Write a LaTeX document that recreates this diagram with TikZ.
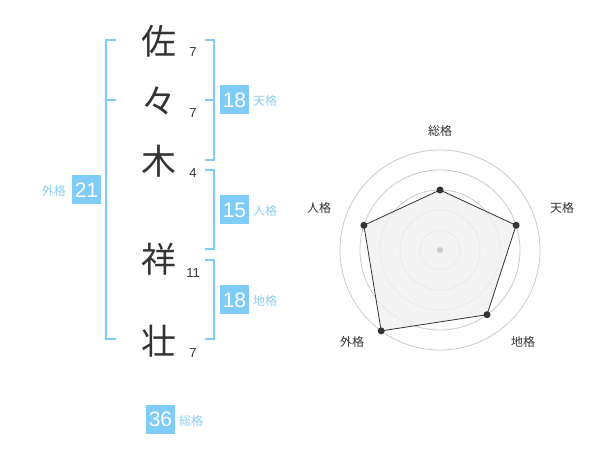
\documentclass[tikz,border=0pt]{standalone}
\usepackage{fontspec}
\usetikzlibrary{calc}
\setmainfont{Liberation Sans}
\newfontfamily\cjk{Noto Sans CJK JP}
\definecolor{boxblue}{HTML}{80CCF8}
\definecolor{lblblue}{HTML}{8CCFF5}
\definecolor{ink}{HTML}{333333}
\definecolor{ringgray}{HTML}{CCCCCC}
\definecolor{polyfill}{HTML}{F0F0F0}
\tikzset{
  bigchar/.style={font=\cjk\fontsize{35}{35}\selectfont, text=ink, inner sep=0pt},
  strokenum/.style={font=\fontsize{13}{13}\selectfont, text=ink, inner sep=0pt},
  valbox/.style={fill=boxblue, text=white, font=\fontsize{21}{21}\selectfont, minimum width=29pt, minimum height=29pt, inner sep=0pt},
  kaku/.style={font=\cjk\fontsize{12}{12}\selectfont, text=lblblue, inner sep=0pt},
  bracket/.style={draw=boxblue, line width=2pt},
  ring/.style={draw=ringgray, line width=0.8pt},
  radlbl/.style={font=\cjk\fontsize{12}{12}\selectfont, text=ink, inner sep=0pt},
  dot/.style={circle, fill=ink, minimum size=7pt, inner sep=0pt},
}
\begin{document}
\begin{tikzpicture}[x=1pt,y=-1pt]
\useasboundingbox[fill=white] (0,0) rectangle (600,470);
% characters
\node[bigchar] (c1) at (159,41) {佐};
\node[bigchar] (c2) at (159,101) {々};
\node[bigchar] (c3) at (159,161) {木};
\node[bigchar] (c4) at (159,259) {祥};
\node[bigchar] (c5) at (159,341) {壮};
% stroke numbers
\node[strokenum] (n1) at (193,52) {7};
\node[strokenum] (n2) at (193,113) {7};
\node[strokenum] (n3) at (193,173) {4};
\node[strokenum] (n4) at (193,273) {11};
\node[strokenum] (n5) at (193,353) {7};
% left bracket (外格)
\coordinate (lt) at (106,40);
\coordinate (lb) at (106,339);
\draw[bracket] (116,40) -- (lt) -- (lb) -- (116,339);
\draw[bracket] (106,100) -- (116,100);
% right brackets
\draw[bracket] (205,40) -- (214,40) -- (214,160) -- (205,160);
\draw[bracket] (205,100) -- (214,100);
\draw[bracket] (205,170) -- (214,170) -- (214,249) -- (205,249);
\draw[bracket] (205,260) -- (214,260) -- (214,339) -- (205,339);
% value boxes
\node[valbox] (v1) at (234.5,100) {18};
\node[kaku, anchor=west] (k1) at (253,101) {天格};
\node[valbox] (v2) at (234.5,210) {15};
\node[kaku, anchor=west] (k2) at (253,211) {人格};
\node[valbox] (v3) at (234.5,300) {18};
\node[kaku, anchor=west] (k3) at (253,301) {地格};
\node[valbox] (v4) at (86.5,190) {21};
\node[kaku, anchor=east] (k4) at (66,191) {外格};
\node[valbox] (v5) at (160.5,419.5) {36};
\node[kaku, anchor=west] (k5) at (179,421) {総格};
% radar
\coordinate (O) at (440,250);
\foreach \r in {20,40,60,80,100} \draw[ring] (O) circle (\r);
\coordinate (p1) at ($(O)+(0,-60)$);
\coordinate (p2) at ($(O)+(76.1,-24.7)$);
\coordinate (p3) at ($(O)+(47.0,64.7)$);
\coordinate (p4) at ($(O)+(-58.8,80.9)$);
\coordinate (p5) at ($(O)+(-76.1,-24.7)$);
\draw[fill=polyfill, fill opacity=0.8, draw=ink, line width=0.8pt] (p1) -- (p2) -- (p3) -- (p4) -- (p5) -- cycle;
\node[circle, fill=ringgray, minimum size=6pt, inner sep=0pt] (cen) at (O) {};
\foreach \p in {p1,p2,p3,p4,p5} \node[dot] at (\p) {};
\node[radlbl] (r1) at (440,131) {総格};
\node[radlbl] (r2) at (562,208) {天格};
\node[radlbl] (r3) at (523,342) {地格};
\node[radlbl] (r4) at (352,342) {外格};
\node[radlbl] (r5) at (319,208) {人格};
\end{tikzpicture}
\end{document}
